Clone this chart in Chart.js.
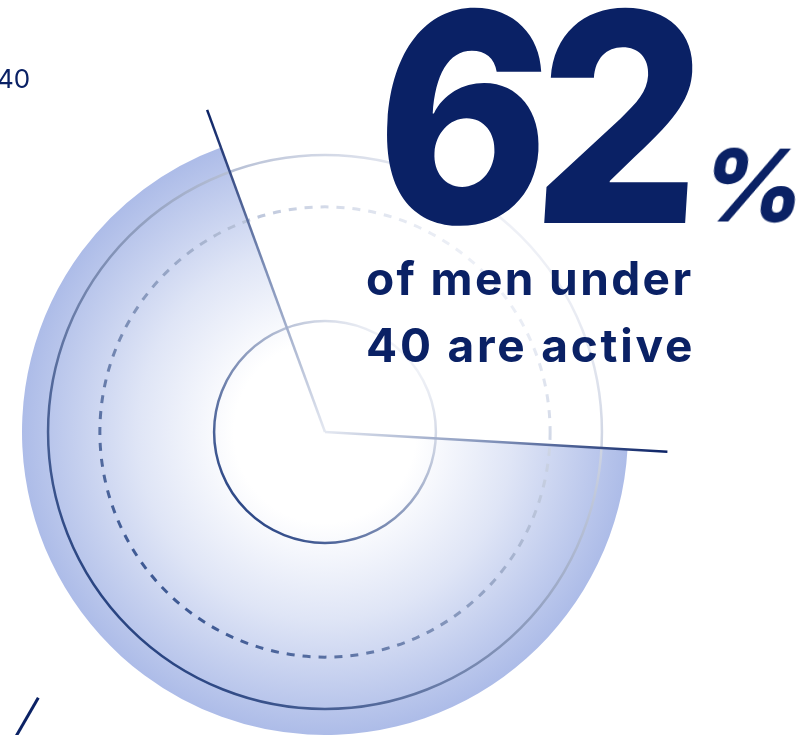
<!DOCTYPE html>
<html>
<head>
<meta charset="utf-8">
<script src="https://cdn.jsdelivr.net/npm/chart.js@4.4.1/dist/chart.umd.min.js"></script>
<style>
  html, body { margin: 0; padding: 0; background: #fff; }
  #stage { position: relative; width: 803px; height: 735px; overflow: hidden; }
  #chart { position: absolute; left: 0; top: 0; }
  .txt { position: absolute; color: #0a2165; font-family: Inter, "Noto Sans", sans-serif; line-height: 1; white-space: nowrap; }
  #big { left: 368px; top: -29px; font-size: 292px; font-weight: 800; letter-spacing: -16px; transform: scaleX(0.9) skewX(-4deg); transform-origin: left bottom; }
  #pct { left: 694px; top: 136px; font-size: 100px; font-weight: 800; transform: skewX(-10deg); transform-origin: left bottom; }
  #sub { left: 366px; top: 255px; font-size: 46px; font-weight: 700; letter-spacing: 2.4px; }
  #corner { left: -3px; top: 66px; font-size: 26px; font-weight: 400; }
  #tick { position: absolute; left: 37px; top: 697px; width: 3px; height: 46px; background: #0b2265; transform: rotate(30deg); transform-origin: top left; }
</style>
</head>
<body>
<div id="stage">
  <canvas id="chart" width="803" height="735"></canvas>
  <div class="txt" id="corner">40</div>
  <div class="txt" id="big">62</div>
  <div class="txt" id="pct">%</div>
  <div class="txt" id="sub">of men under<br><span style="display:inline-block;margin-top:21px;letter-spacing:2.8px">40 are active</span></div>
  <div id="tick"></div>
</div>
<script>
// data (shares as drawn in the graphic)
const labels = ['Active', 'Not active'];
const shares = [68.5, 31.5];
const startDeg = 93.3;   // where the active slice begins, clockwise from 12 o'clock

// ring radii, as a fraction of the pie radius
const ringOuter = 0.914;
const ringDashed = 0.743;
const ringInner = 0.366;
const spokeLen = 1.132;

// radial fill for the active slice, set once the arc has its geometry
const fill = {
  id: 'fill',
  beforeDatasetsDraw(chart) {
    const arc = chart.getDatasetMeta(0).data[0];
    const g = chart.ctx.createRadialGradient(arc.x, arc.y, 0, arc.x, arc.y, arc.outerRadius);
    g.addColorStop(0, '#ffffff');
    g.addColorStop(0.3, '#ffffff');
    g.addColorStop(0.62, '#dfe5f6');
    g.addColorStop(1, '#adbce8');
    arc.options.backgroundColor = g;
  }
};

// circles and the two spokes, placed from the arc's own geometry
const decor = {
  id: 'decor',
  afterDatasetsDraw(chart) {
    const arc = chart.getDatasetMeta(0).data[0];
    const c = chart.ctx;
    const cx = arc.x, cy = arc.y, R = arc.outerRadius;

    function ring(r, dark, light, width, dash) {
      const g = c.createLinearGradient(cx - r * 0.7, cy + r * 0.7, cx + r * 0.7, cy - r * 0.7);
      g.addColorStop(0, dark);
      g.addColorStop(1, light);
      c.save();
      c.beginPath();
      c.arc(cx, cy, r, 0, Math.PI * 2);
      c.strokeStyle = g;
      c.lineWidth = width;
      if (dash) c.setLineDash(dash);
      c.stroke();
      c.restore();
    }
    ring(R * ringOuter, '#2a4582', '#eef0f6', 2.5);
    ring(R * ringDashed, '#3f5a94', '#eceff6', 3, [8, 8]);
    ring(R * ringInner, '#2f4a88', '#f0f2f7', 2.5);

    [arc.startAngle, arc.endAngle].forEach(a => {
      const ex = cx + Math.cos(a) * R * spokeLen;
      const ey = cy + Math.sin(a) * R * spokeLen;
      const g = c.createLinearGradient(cx, cy, ex, ey);
      g.addColorStop(0, '#e4e8f1');
      g.addColorStop(0.5, '#7f90b8');
      g.addColorStop(1, '#0b2265');
      c.save();
      c.beginPath();
      c.moveTo(cx, cy);
      c.lineTo(ex, ey);
      c.strokeStyle = g;
      c.lineWidth = 2.5;
      c.stroke();
      c.restore();
    });
  }
};

new Chart(document.getElementById('chart'), {
  type: 'pie',
  data: {
    labels: labels,
    datasets: [{
      data: shares,
      backgroundColor: ['#b0bfe9', 'rgba(0,0,0,0)'],
      borderWidth: 0
    }]
  },
  options: {
    responsive: false,
    animation: false,
    rotation: startDeg,
    layout: { padding: { left: 22, right: 175, top: 129, bottom: 0 } },
    plugins: { legend: { display: false }, tooltip: { enabled: false } },
    events: []
  },
  plugins: [fill, decor]
});
</script>
</body>
</html>
